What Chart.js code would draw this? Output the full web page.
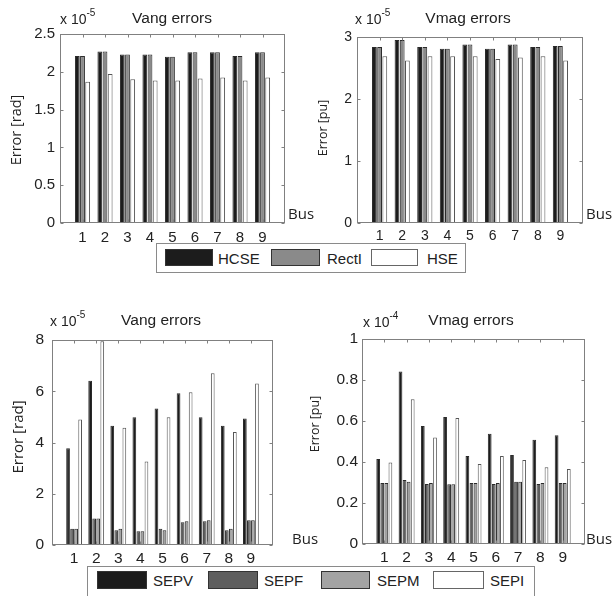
<!DOCTYPE html>
<html><head><meta charset="utf-8">
<script src="https://cdn.jsdelivr.net/npm/chart.js@4"></script>
<style>
body{margin:0;background:#fff;}
#wrap{position:relative;width:614px;height:596px;overflow:hidden;background:#fff;font-family:"Liberation Sans",Arial,sans-serif;color:#222;}
canvas{position:absolute;}
.t{position:absolute;white-space:nowrap;line-height:1;}
.ttl{font-size:15.5px;transform:translate(-50%,-50%);}
.exp{font-size:14px;}
.exp sup{font-size:10px;vertical-align:0;position:relative;top:-8px;}
.bus{font-family:"Open Sans",sans-serif;font-size:15px;}
.yt{font-family:"Open Sans",sans-serif;transform:translate(-50%,-50%) rotate(-90deg);}
.leg{position:absolute;border:1px solid #8a8a8a;background:#fff;box-sizing:border-box;}
.sw{position:absolute;box-sizing:border-box;border:1px solid #333;}
.lt{position:absolute;white-space:nowrap;line-height:1;font-size:15px;transform:translateY(-50%);}
</style></head><body>
<div id="wrap">
  <canvas id="c1" width="300" height="245" style="left:0;top:0"></canvas>
  <canvas id="c2" width="314" height="245" style="left:300px;top:0"></canvas>
  <canvas id="c3" width="300" height="270" style="left:0;top:300px"></canvas>
  <canvas id="c4" width="314" height="270" style="left:300px;top:300px"></canvas>

  <div class="t ttl" style="left:172px;top:18px">Vang errors</div>
  <div class="t ttl" style="left:468px;top:18px">Vmag errors</div>
  <div class="t ttl" style="left:161px;top:320px">Vang errors</div>
  <div class="t ttl" style="left:471px;top:320px">Vmag errors</div>

  <div class="t exp" style="left:60px;top:12px">x 10<sup>-5</sup></div>
  <div class="t exp" style="left:355px;top:12px">x 10<sup>-5</sup></div>
  <div class="t exp" style="left:50px;top:314px">x 10<sup>-5</sup></div>
  <div class="t exp" style="left:363px;top:315px">x 10<sup>-4</sup></div>

  <div class="t bus" style="left:288px;top:206px">Bus</div>
  <div class="t bus" style="left:586px;top:206px">Bus</div>
  <div class="t bus" style="left:292px;top:531px">Bus</div>
  <div class="t bus" style="left:586px;top:531px">Bus</div>

  <div class="t yt" style="left:16px;top:130px;font-size:14.5px">Error [rad]</div>
  <div class="t yt" style="left:323px;top:128px;font-size:12.5px">Error [pu]</div>
  <div class="t yt" style="left:17px;top:437px;font-size:15px">Error [rad]</div>
  <div class="t yt" style="left:315px;top:424px;font-size:12.5px">Error [pu]</div>

  <div class="leg" style="left:156px;top:243px;width:310px;height:30px"></div>
  <div class="sw" style="left:165px;top:249px;width:48px;height:17px;background:#1c1c1c"></div>
  <div class="lt" style="left:218px;top:258px">HCSE</div>
  <div class="sw" style="left:271px;top:249px;width:49px;height:17px;background:#8a8a8a"></div>
  <div class="lt" style="left:327px;top:258px">RectI</div>
  <div class="sw" style="left:371px;top:249px;width:47px;height:17px;background:#fff;border-color:#666"></div>
  <div class="lt" style="left:427px;top:258px">HSE</div>

  <div class="leg" style="left:87px;top:566px;width:448px;height:40px"></div>
  <div class="sw" style="left:97px;top:571px;width:50px;height:18px;background:#1c1c1c"></div>
  <div class="lt" style="left:153px;top:580px">SEPV</div>
  <div class="sw" style="left:208px;top:571px;width:50px;height:18px;background:#5e5e5e"></div>
  <div class="lt" style="left:264px;top:580px">SEPF</div>
  <div class="sw" style="left:321px;top:571px;width:49px;height:18px;background:#a3a3a3"></div>
  <div class="lt" style="left:377px;top:580px">SEPM</div>
  <div class="sw" style="left:433px;top:571px;width:51px;height:18px;background:#fff;border-color:#666"></div>
  <div class="lt" style="left:490px;top:580px">SEPI</div>
</div>
<script>
// ---- data ----
const buses = [1, 2, 3, 4, 5, 6, 7, 8, 9];

// top row (x 10^-5)
const hcseVang  = [2.21, 2.27, 2.23, 2.23, 2.20, 2.26, 2.26, 2.21, 2.26];
const rectIVang = [2.21, 2.27, 2.23, 2.23, 2.20, 2.26, 2.26, 2.21, 2.26];
const hseVang   = [1.87, 1.97, 1.90, 1.885, 1.885, 1.91, 1.925, 1.885, 1.925];

const hcseVmag  = [2.84, 2.95, 2.84, 2.81, 2.88, 2.81, 2.88, 2.84, 2.855];
const rectIVmag = [2.84, 2.95, 2.84, 2.81, 2.88, 2.81, 2.88, 2.84, 2.855];
const hseVmag   = [2.69, 2.62, 2.69, 2.69, 2.69, 2.645, 2.67, 2.69, 2.62];

// bottom row: Vang (x 10^-5), Vmag (x 10^-4)
const sepvVang = [3.78, 6.41, 4.65, 4.99, 5.33, 5.92, 4.99, 4.65, 4.94];
const sepfVang = [0.63, 1.03, 0.58, 0.54, 0.63, 0.89, 0.93, 0.58, 0.97];
const sepmVang = [0.63, 1.03, 0.63, 0.54, 0.58, 0.93, 0.97, 0.63, 0.97];
const sepiVang = [4.90, 7.95, 4.58, 3.26, 4.99, 5.96, 6.70, 4.41, 6.30];

const sepvVmag = [0.415, 0.841, 0.576, 0.62, 0.429, 0.538, 0.434, 0.509, 0.53];
const sepfVmag = [0.298, 0.312, 0.293, 0.291, 0.298, 0.293, 0.304, 0.293, 0.298];
const sepmVmag = [0.298, 0.304, 0.298, 0.291, 0.298, 0.298, 0.304, 0.298, 0.298];
const sepiVmag = [0.397, 0.706, 0.52, 0.615, 0.39, 0.429, 0.41, 0.374, 0.366];

// tick labels
const yTicksVangTop = [0, 0.5, 1, 1.5, 2, 2.5];
const yTicksVmagTop = [0, 1, 2, 3];
const yTicksVangBot = [0, 2, 4, 6, 8];
const yTicksVmagBot = [0, 0.2, 0.4, 0.6, 0.8, 1];

const topLabels = ['HCSE', 'RectI', 'HSE'];
const topColors = ['#1c1c1c', '#8a8a8a', '#ffffff'];
const botLabels = ['SEPV', 'SEPF', 'SEPM', 'SEPI'];
const botColors = ['#1c1c1c', '#5e5e5e', '#a3a3a3', '#ffffff'];

// ---- drawing ----
const boxPlugin = {
  id: 'box',
  afterDraw(chart) {
    const {ctx, chartArea: a, scales: {x, y}} = chart;
    ctx.save();
    ctx.strokeStyle = '#808080';
    ctx.lineWidth = 1;
    const L = Math.round(a.left) + 0.5, R = Math.round(a.right) - 0.5;
    const T = Math.round(a.top) + 0.5, B = Math.round(a.bottom) - 0.5;
    ctx.strokeRect(L, T, R - L, B - T);
    ctx.beginPath();
    x.ticks.forEach(t => {
      const px = Math.round(x.getPixelForValue(t.value)) + 0.5;
      ctx.moveTo(px, B); ctx.lineTo(px, B - 3);
      ctx.moveTo(px, T); ctx.lineTo(px, T + 3);
    });
    y.ticks.forEach(t => {
      const py = Math.round(y.getPixelForValue(t.value)) + 0.5;
      ctx.moveTo(L, py); ctx.lineTo(L + 3, py);
      ctx.moveTo(R, py); ctx.lineTo(R - 3, py);
    });
    ctx.stroke();
    ctx.restore();
  }
};

function makeChart(id, labels, colors, seriesList, yTicks, g) {
  const font = {family: '"Liberation Sans", Arial, sans-serif', size: g.fs};
  return new Chart(document.getElementById(id), {
    type: 'bar',
    data: {
      datasets: seriesList.map((vals, i) => ({
        label: labels[i],
        data: buses.map((b, j) => ({x: b, y: vals[j]})),
        backgroundColor: colors[i],
        borderColor: i === colors.length - 1 ? '#555' : '#2a2a2a',
        borderWidth: 1,
        categoryPercentage: g.cat,
        barPercentage: 0.92
      }))
    },
    options: {
      responsive: false,
      animation: false,
      devicePixelRatio: 1,
      layout: {padding: {left: 0, top: g.top, right: g.right, bottom: 0}},
      plugins: {legend: {display: false}, tooltip: {enabled: false}},
      scales: {
        x: {
          type: 'linear', min: 0, max: 10, offset: false,
          grid: {display: false, drawTicks: false},
          border: {display: false},
          afterBuildTicks: s => { s.ticks = buses.map(v => ({value: v})); },
          ticks: {autoSkip: false, maxRotation: 0, font, color: '#222', padding: g.xpad,
                  callback: v => String(v)},
          afterFit: s => { s.height = g.xh; }
        },
        y: {
          min: yTicks[0], max: yTicks[yTicks.length - 1],
          grid: {display: false, drawTicks: false},
          border: {display: false},
          afterBuildTicks: s => { s.ticks = yTicks.map(v => ({value: v})); },
          ticks: {font, color: '#222', padding: g.ypad, callback: v => String(v)},
          afterFit: s => { s.width = g.left; }
        }
      }
    },
    plugins: [boxPlugin]
  });
}

makeChart('c1', topLabels, topColors, [hcseVang, rectIVang, hseVang], yTicksVangTop,
  {left: 60, top: 34, right: 15, xh: 22, fs: 15, xpad: 6, ypad: 5, cat: 0.69});
makeChart('c2', topLabels, topColors, [hcseVmag, rectIVmag, hseVmag], yTicksVmagTop,
  {left: 57, top: 37, right: 31, xh: 22, fs: 14, xpad: 5, ypad: 5, cat: 0.69});
makeChart('c3', botLabels, botColors, [sepvVang, sepfVang, sepmVang, sepiVang], yTicksVangBot,
  {left: 52, top: 40, right: 27, xh: 25, fs: 15.5, xpad: 4, ypad: 8, cat: 0.73});
makeChart('c4', botLabels, botColors, [sepvVmag, sepfVmag, sepmVmag, sepiVmag], yTicksVmagBot,
  {left: 62, top: 39, right: 29, xh: 26, fs: 15.5, xpad: 4, ypad: 4, cat: 0.73});
</script>
</body></html>
